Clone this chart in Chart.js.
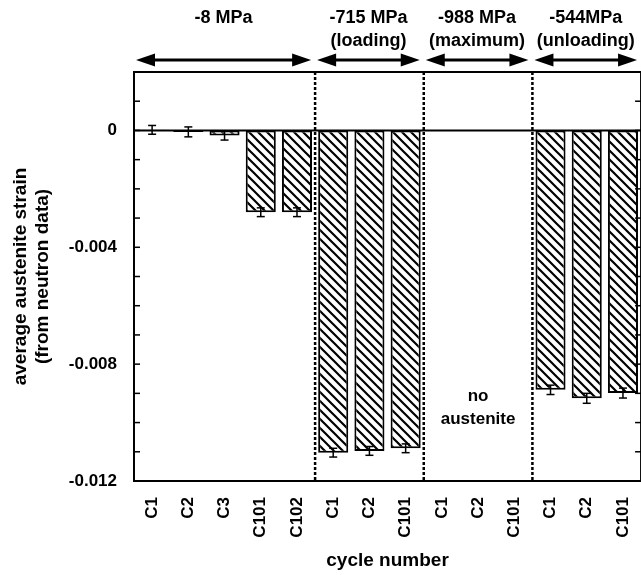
<!DOCTYPE html>
<html>
<head>
<meta charset="utf-8">
<script src="https://cdn.jsdelivr.net/npm/chart.js@4.4.1/dist/chart.umd.min.js"></script>
<style>
  html, body { margin: 0; padding: 0; background: #fff; overflow: hidden; }
  #wrap { width: 660px; height: 575px; }
</style>
</head>
<body>
<div id="wrap"><canvas id="c" width="660" height="575"></canvas></div>
<script>
// data
const cycles = ['C1', 'C2', 'C3', 'C101', 'C102', 'C1', 'C2', 'C101', 'C1', 'C2', 'C101', 'C1', 'C2', 'C101'];
const strain = [0.00002, -0.00005, -0.00017, -0.0028, -0.0028, -0.01103, -0.01097, -0.01088, null, null, null, -0.00888, -0.00917, -0.00899];
const strainErr = [0.00015, 0.00017, 0.00016, 0.00015, 0.00015, 0.00015, 0.00015, 0.00015, null, null, null, 0.00016, 0.00017, 0.00017];
const yTickLabels = [0, -0.004, -0.008, -0.012];
const groupTitles = [['-8 MPa'], ['-715 MPa', '(loading)'], ['-988 MPa', '(maximum)'], ['-544MPa', '(unloading)']];
const groupStart = [0, 5, 8, 11];
const groupEnd = [4, 7, 10, 13];
const noteText = ['no', 'austenite'];

const FONT = '"Liberation Sans", Arial, Helvetica, sans-serif';
Chart.defaults.font.family = FONT;
Chart.defaults.color = '#000';

const canvas = document.getElementById('c');

// diagonal hatch fill for the bars
function makeHatch() {
    const s = 9;
    const tile = document.createElement('canvas');
    tile.width = s; tile.height = s;
    const g = tile.getContext('2d');
    g.fillStyle = '#fff';
    g.fillRect(0, 0, s, s);
    g.strokeStyle = '#000';
    g.lineWidth = 2.2;
    g.beginPath();
    for (const k of [-s, 0, s]) {
        g.moveTo(k - 1, -1);
        g.lineTo(k + s + 1, s + 1);
    }
    g.stroke();
    return canvas.getContext('2d').createPattern(tile, 'repeat');
}

function seg(ctx, x1, y1, x2, y2) {
    ctx.beginPath();
    ctx.moveTo(x1, y1);
    ctx.lineTo(x2, y2);
    ctx.stroke();
}

function arrowHead(ctx, tipX, y, dir) {
    ctx.beginPath();
    ctx.moveTo(tipX, y);
    ctx.lineTo(tipX - dir * 19, y - 6.5);
    ctx.lineTo(tipX - dir * 19, y + 6.5);
    ctx.closePath();
    ctx.fill();
}

const decor = {
    id: 'decor',
    afterDatasetsDraw(chart) {
        const { ctx, chartArea: a, scales: { x, y } } = chart;
        const half = (x.getPixelForValue(1) - x.getPixelForValue(0)) / 2;
        ctx.save();
        ctx.strokeStyle = '#000';
        ctx.fillStyle = '#000';

        // zero line
        ctx.lineWidth = 2;
        const y0 = y.getPixelForValue(0);
        seg(ctx, a.left, y0, a.right, y0);

        // error bars
        ctx.lineWidth = 1.5;
        strain.forEach((v, i) => {
            if (v === null || strainErr[i] === null) return;
            const px = x.getPixelForValue(i);
            const top = y.getPixelForValue(v + strainErr[i]);
            const bot = y.getPixelForValue(v - strainErr[i]);
            seg(ctx, px, top, px, bot);
            seg(ctx, px - 4, top, px + 4, top);
            seg(ctx, px - 4, bot, px + 4, bot);
        });

        // dashed separators between load steps
        ctx.lineWidth = 2.5;
        ctx.setLineDash([3, 2]);
        for (let g = 1; g < groupStart.length; g++) {
            const px = x.getPixelForValue(groupStart[g]) - half;
            seg(ctx, px, a.top, px, a.bottom);
        }
        ctx.setLineDash([]);

        // frame top and right
        ctx.lineWidth = 2;
        seg(ctx, a.left, a.top, a.right, a.top);
        seg(ctx, a.right, a.top, a.right, a.bottom);

        // inward ticks on both sides
        ctx.lineWidth = 1.5;
        y.ticks.forEach(t => {
            const py = y.getPixelForValue(t.value);
            seg(ctx, a.left, py, a.left + 6, py);
            seg(ctx, a.right, py, a.right - 6, py);
        });

        // group arrows and titles
        ctx.font = 'bold 18px ' + FONT;
        ctx.textAlign = 'center';
        ctx.textBaseline = 'middle';
        groupTitles.forEach((lines, g) => {
            const l = x.getPixelForValue(groupStart[g]) - half + 2;
            const r = x.getPixelForValue(groupEnd[g]) + half - 4;
            const ay = a.top - 12;
            ctx.lineWidth = 3;
            seg(ctx, l + 10, ay, r - 10, ay);
            arrowHead(ctx, l, ay, -1);
            arrowHead(ctx, r, ay, 1);
            const cx = (l + r) / 2;
            lines.forEach((t, k) => ctx.fillText(t, cx, 18 + k * 23));
        });

        // note in the empty group
        const nx = x.getPixelForValue(9);
        const ny = y.getPixelForValue(-0.0095);
        ctx.font = 'bold 17px ' + FONT;
        ctx.fillText(noteText[0], nx, ny - 12);
        ctx.fillText(noteText[1], nx, ny + 11);

        ctx.restore();
    }
};

const hatch = makeHatch();

new Chart(canvas, {
    type: 'bar',
    data: {
        labels: cycles,
        datasets: [{
            data: strain,
            backgroundColor: hatch,
            borderColor: '#000',
            borderWidth: 2,
            borderSkipped: false,
            barPercentage: 0.83,
            categoryPercentage: 1.0
        }]
    },
    options: {
        responsive: false,
        animation: false,
        layout: { padding: { left: 0, top: 72, right: 18, bottom: 0 } },
        plugins: { legend: { display: false }, tooltip: { enabled: false } },
        scales: {
            x: {
                grid: { display: false, drawTicks: false },
                border: { display: true, color: '#000', width: 2 },
                ticks: {
                    autoSkip: false,
                    minRotation: 90,
                    maxRotation: 90,
                    padding: 16,
                    font: { size: 17, weight: 'bold' }
                },
                title: {
                    display: true,
                    text: 'cycle number',
                    font: { size: 19, weight: 'bold', lineHeight: 1.2 },
                    padding: { top: 0, bottom: 3 }
                },
                afterFit(scale) { scale.height = 94; }
            },
            y: {
                min: -0.012,
                max: 0.002,
                grid: { display: false, drawTicks: false },
                border: { display: true, color: '#000', width: 2 },
                ticks: {
                    stepSize: 0.001,
                    padding: 17,
                    font: { size: 17, weight: 'bold' },
                    callback: (v) => {
                        if (!yTickLabels.some(t => Math.abs(t - v) < 1e-9)) return '';
                        return Math.abs(v) < 1e-12 ? '0' : v.toFixed(3);
                    }
                },
                title: {
                    display: true,
                    text: ['average austenite strain', '(from neutron data)'],
                    font: { size: 19, weight: 'bold', lineHeight: 1.2 },
                    padding: { top: 9, bottom: 0 }
                },
                afterFit(scale) { scale.width = 134; }
            }
        }
    },
    plugins: [decor]
});
</script>
</body>
</html>
